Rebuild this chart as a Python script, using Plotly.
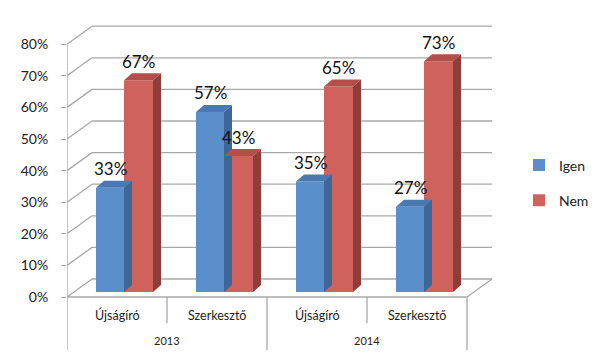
import plotly.graph_objects as go

# ---- data ----
categories = ["Újságíró", "Szerkesztő", "Újságíró", "Szerkesztő"]
years = ["2013", "2014"]
igen = [33, 57, 35, 27]
nem = [67, 43, 65, 73]
y_ticks = [0, 10, 20, 30, 40, 50, 60, 70, 80]
y_tick_labels = [f"{v}%" for v in y_ticks]

# ---- geometry (pseudo-3D) ----
PX = 3.16                 # pixels per percent
DX, DY = 0.25, 18 / PX    # back-wall offset (x units, y units)
BX, BY = 0.07, 5 / PX     # bar placement offset in depth
DDX, DDY = 0.08, 7 / PX   # bar depth
W_BLUE, W_RED = 0.28, 0.29

BLUE_F, BLUE_T, BLUE_S = "#5b8fcb", "#4a79b2", "#3e6797"
RED_F, RED_T, RED_S = "#cf625c", "#b24f4a", "#8f3d39"
GRID = "#a8a8a8"
FONT = "Lato"

def faces(values, left_off, width):
    sx, sy, tx, ty = [], [], [], []
    for i, v in enumerate(values):
        x0 = i + BX + left_off
        x1 = x0 + width
        y0 = BY
        y1 = BY + v
        sx += [x1, x1 + DDX, x1 + DDX, x1, x1, None]
        sy += [y0, y0 + DDY, y1 + DDY, y1, y0, None]
        tx += [x0, x0 + DDX, x1 + DDX, x1, x0, None]
        ty += [y1, y1 + DDY, y1 + DDY, y1, y1, None]
    return sx, sy, tx, ty

fig = go.Figure()

for vals, off, w, ct, cs in [(igen, -W_BLUE, W_BLUE, BLUE_T, BLUE_S),
                             (nem, 0.0, W_RED, RED_T, RED_S)]:
    sx, sy, tx, ty = faces(vals, off, w)
    fig.add_trace(go.Scatter(x=sx, y=sy, fill="toself", fillcolor=cs, mode="lines",
                             line=dict(width=0, color=cs), showlegend=False, hoverinfo="skip"))
    fig.add_trace(go.Scatter(x=tx, y=ty, fill="toself", fillcolor=ct, mode="lines",
                             line=dict(width=0, color=ct), showlegend=False, hoverinfo="skip"))

xs = [i + BX for i in range(len(categories))]
fig.add_trace(go.Bar(x=xs, y=igen, base=BY, width=W_BLUE, offset=-W_BLUE, name="Igen",
                     marker=dict(color=BLUE_F, line=dict(width=0)), hoverinfo="skip",
                     legendgroup="a"))
fig.add_trace(go.Bar(x=xs, y=nem, base=BY, width=W_RED, offset=0, name="Nem",
                     marker=dict(color=RED_F, line=dict(width=0)), hoverinfo="skip",
                     legendgroup="b"))

shapes = []
def line(x0, y0, x1, y1):
    shapes.append(dict(type="line", xref="x", yref="y", x0=x0, y0=y0, x1=x1, y1=y1,
                       line=dict(color=GRID, width=1.3), layer="below"))

n = len(categories)
left = -0.5
right = n - 0.5
for v in y_ticks:
    line(left, v, left + DX, v + DY)
    line(left + DX, v + DY, right + DX, v + DY)
line(left, 0, right, 0)
line(right, 0, right + DX, DY)
y_bottom = -53 / PX
y_mid = -26 / PX
line(left, y_bottom, left, y_ticks[-1])
for k in range(1, n + 1):
    x = k - 0.5
    line(x, 0, x, y_mid if k % 2 else y_bottom)

ann = []
for i in range(n):
    ann.append(dict(x=i + BX - W_BLUE / 2, y=BY + igen[i], text=f"{igen[i]}%",
                    showarrow=False, yshift=19, font=dict(size=17, color="#111", family=FONT)))
    ann.append(dict(x=i + BX + W_RED / 2, y=BY + nem[i], text=f"{nem[i]}%",
                    showarrow=False, yshift=19, font=dict(size=17, color="#111", family=FONT)))
    ann.append(dict(x=i, y=-18 / PX, text=categories[i], showarrow=False,
                    font=dict(size=12.5, color="#222", family=FONT)))
for j, yr in enumerate(years):
    ann.append(dict(x=2 * j + 0.5, y=-43 / PX, text=yr, showarrow=False,
                    font=dict(size=11, color="#222", family=FONT)))

# page body has an 8px margin: the figure is made smaller and offset accordingly
fig.update_layout(
    width=586, height=346,
    margin=dict(l=59, r=102, t=12, b=2, autoexpand=False),
    paper_bgcolor="white", plot_bgcolor="white",
    barmode="overlay",
    shapes=shapes, annotations=ann,
    xaxis=dict(range=[left, right + DX], visible=False, fixedrange=True),
    yaxis=dict(range=[-55 / PX, 277 / PX], tickvals=y_ticks, ticktext=y_tick_labels,
               showgrid=False, zeroline=False, showline=False, ticks="outside",
               ticklen=5, tickcolor=GRID, tickfont=dict(size=14, color="#222", family=FONT),
               ticklabelstandoff=10, fixedrange=True, automargin=False),
    legend=dict(x=1.0635, xanchor="left", y=0.61, yanchor="top", tracegroupgap=14,
                font=dict(size=14, color="#222", family=FONT), bgcolor="rgba(0,0,0,0)"),
    showlegend=True,
)

fig.write_html("out.html")
